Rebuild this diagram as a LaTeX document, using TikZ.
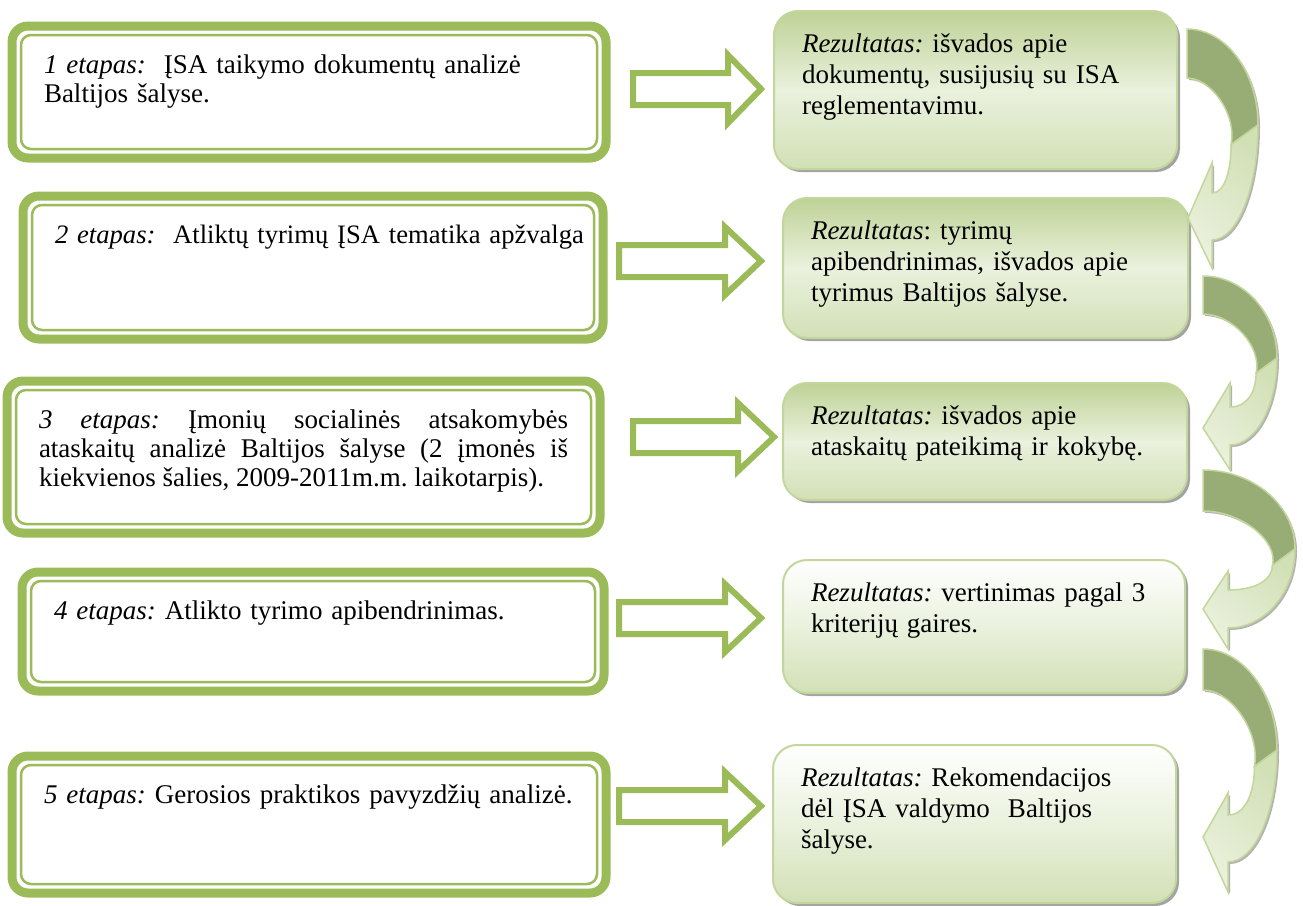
\documentclass[tikz,border=0pt]{standalone}
\usepackage{fontspec}
\setmainfont{Liberation Serif}
\usetikzlibrary{positioning,shadows}
\definecolor{stagegreen}{RGB}{155,187,89}
\definecolor{resline}{RGB}{195,214,155}
\definecolor{resdark}{RGB}{190,210,150}
\definecolor{reslight}{RGB}{234,241,221}
\definecolor{resmid}{RGB}{210,224,182}
\definecolor{backdark}{RGB}{152,173,118}
\tikzset{font=\fontsize{27}{29}\selectfont}
\tikzstyle{stagebox}=[draw=stagegreen,line width=9pt,outer sep=0pt,rounded corners=16pt,fill=white,inner xsep=32pt,inner ysep=10pt,text height=37pt,align=left]
\tikzstyle{stageinner}=[draw=stagegreen,line width=2.5pt,rounded corners=10pt]
\tikzstyle{resultbox}=[draw=resline,line width=2pt,rounded corners=24pt,top color=resdark,bottom color=resmid,middle color=reslight,inner xsep=28pt,inner ysep=8pt,text height=33pt,align=left,font=\fontsize{27}{31}\selectfont,drop shadow={shadow xshift=3pt,shadow yshift=-3pt,fill=black!60,opacity=.6}]
\tikzstyle{resultpale}=[resultbox,top color=white,bottom color=resmid,middle color=reslight]
\tikzstyle{flowarrow}=[draw=stagegreen,line width=6pt,fill=white]
\tikzstyle{bendfront}=[draw=resline,line width=1.5pt,top color=resmid,bottom color=reslight,shading angle=-40,drop shadow={shadow xshift=2pt,shadow yshift=-2pt,fill=black!60,opacity=.5}]
\tikzstyle{bendback}=[draw=resline,line width=1.5pt,fill=backdark,drop shadow={shadow xshift=2pt,shadow yshift=-2pt,fill=black!60,opacity=.5}]
\begin{document}
\frenchspacing
\begin{tikzpicture}[x=1pt,y=-1pt]
\useasboundingbox (0,0) rectangle (1303,905);
\node[stagebox,minimum width=594pt,minimum height=132pt,text width=530pt,text depth=75pt] (b1) at (309,92) {\textit{1 etapas:}\ \ ĮSA taikymo dokumentų analizė\\Baltijos šalyse.};
\node[stagebox,minimum width=580pt,minimum height=143pt,text width=516pt,text depth=86pt,font=\fontsize{26.6}{29}\selectfont] (b2) at (313,267.5) {\mbox{\textit{2 etapas:}\ \ Atliktų tyrimų ĮSA tematika apžvalga}};
\node[stagebox,minimum width=579pt,minimum height=152pt,text width=529pt,text depth=95pt,align=justify] (b3) at (303.5,457) {\textit{3 etapas:} Įmonių socialinės atsakomybės\linebreak ataskaitų analizė Baltijos šalyse (2 įmonės iš\linebreak kiekvienos šalies, 2009-2011m.m. laikotarpis).};
\node[stagebox,minimum width=582pt,minimum height=119pt,text width=518pt,text depth=62pt] (b4) at (313,631.5) {\mbox{\textit{4 etapas:} Atlikto tyrimo apibendrinimas.}};
\node[stagebox,minimum width=594pt,minimum height=137pt,text width=530pt,text depth=80pt] (b5) at (309,824.5) {\mbox{\textit{5 etapas:} Gerosios praktikos pavyzdžių analizė.}};
\foreach \b in {b1,b2,b3,b4,b5}
  \draw[stageinner] ([shift={(9,9)}]\b.north west) rectangle ([shift={(-9,-9)}]\b.south east);
\node[resultbox,minimum width=403pt,minimum height=158pt,text width=347pt,text depth=109pt] (r1) at (975.5,90) {\textit{Rezultatas:} išvados apie\\dokumentų, susijusių su ISA\\reglementavimu.};
\node[resultbox,minimum width=405pt,minimum height=140pt,text width=349pt,text depth=91pt] (r2) at (985.5,268) {\textit{Rezultatas}: tyrimų\\apibendrinimas, išvados apie\\tyrimus Baltijos šalyse.};
\node[resultbox,minimum width=404pt,minimum height=117pt,text width=348pt,text depth=68pt] (r3) at (985,441.5) {\textit{Rezultatas:} išvados apie\\ataskaitų pateikimą ir kokybę.};
\node[resultpale,minimum width=402pt,minimum height=133pt,text width=346pt,text depth=84pt] (r4) at (984,626.5) {\textit{Rezultatas:} vertinimas pagal 3\\kriterijų gaires.};
\node[resultpale,minimum width=403pt,minimum height=158pt,text width=347pt,text depth=109pt] (r5) at (974.5,824) {\textit{Rezultatas:} Rekomendacijos\\dėl ĮSA valdymo\ \ Baltijos\\šalyse.};
\foreach \xs/\xb/\xe/\y in {633/728/761/89,619/725/761/261,633/738/774/437,619/725/761/618,619/725/761/806}
  \draw[flowarrow] (\xs,\y-16) -- (\xb,\y-16) -- (\xb,\y-34) -- (\xe,\y) -- (\xb,\y+34) -- (\xb,\y+16) -- (\xs,\y+16) -- cycle;
\foreach \xa/\yt/\yb/\xr/\ym/\xt/\yh/\xb/\ba/\bb/\ja/\jb in {1187/29/78/1258/125/1188/218/1212/163/268/193/240,1203/276/314/1277/358/1203/428/1230/383/470/407/445,1203/470/511/1295/549/1203/609/1228/571/649/590/628,1203/649/690/1277/750/1203/837/1228/793/892/815/862}{
  \pgfmathsetmacro\xi{\xr-0.55*(\yb-\yt)}
  \pgfmathsetmacro\yi{\ym+0.4*(\yb-\yt)}
  \draw[bendback] (\xa,\yt) .. controls (\xa+0.55*\xr-0.55*\xa,\yt) and (\xr,\yt+0.45*\ym-0.45*\yt) .. (\xr,\ym) -- (\xi,\yi) .. controls (\xi+6,\yi-0.45*\yi+0.45*\yb) and (\xa+0.55*\xi-0.55*\xa,\yb) .. (\xa,\yb) -- cycle;
  \draw[bendfront] (\xr,\ym) .. controls (\xr,\ym+0.55*\jb-0.55*\ym) and (\xb+0.55*\xr-0.55*\xb,\jb) .. (\xb,\jb) -- (\xb,\bb) -- (\xt,\yh) -- (\xb,\ba) -- (\xb,\ja) .. controls (\xb+0.7*\xi-0.7*\xb,\ja) and (\xi,\yi+0.5*\ja-0.5*\yi) .. (\xi,\yi) -- cycle;
}
\end{tikzpicture}
\end{document}
